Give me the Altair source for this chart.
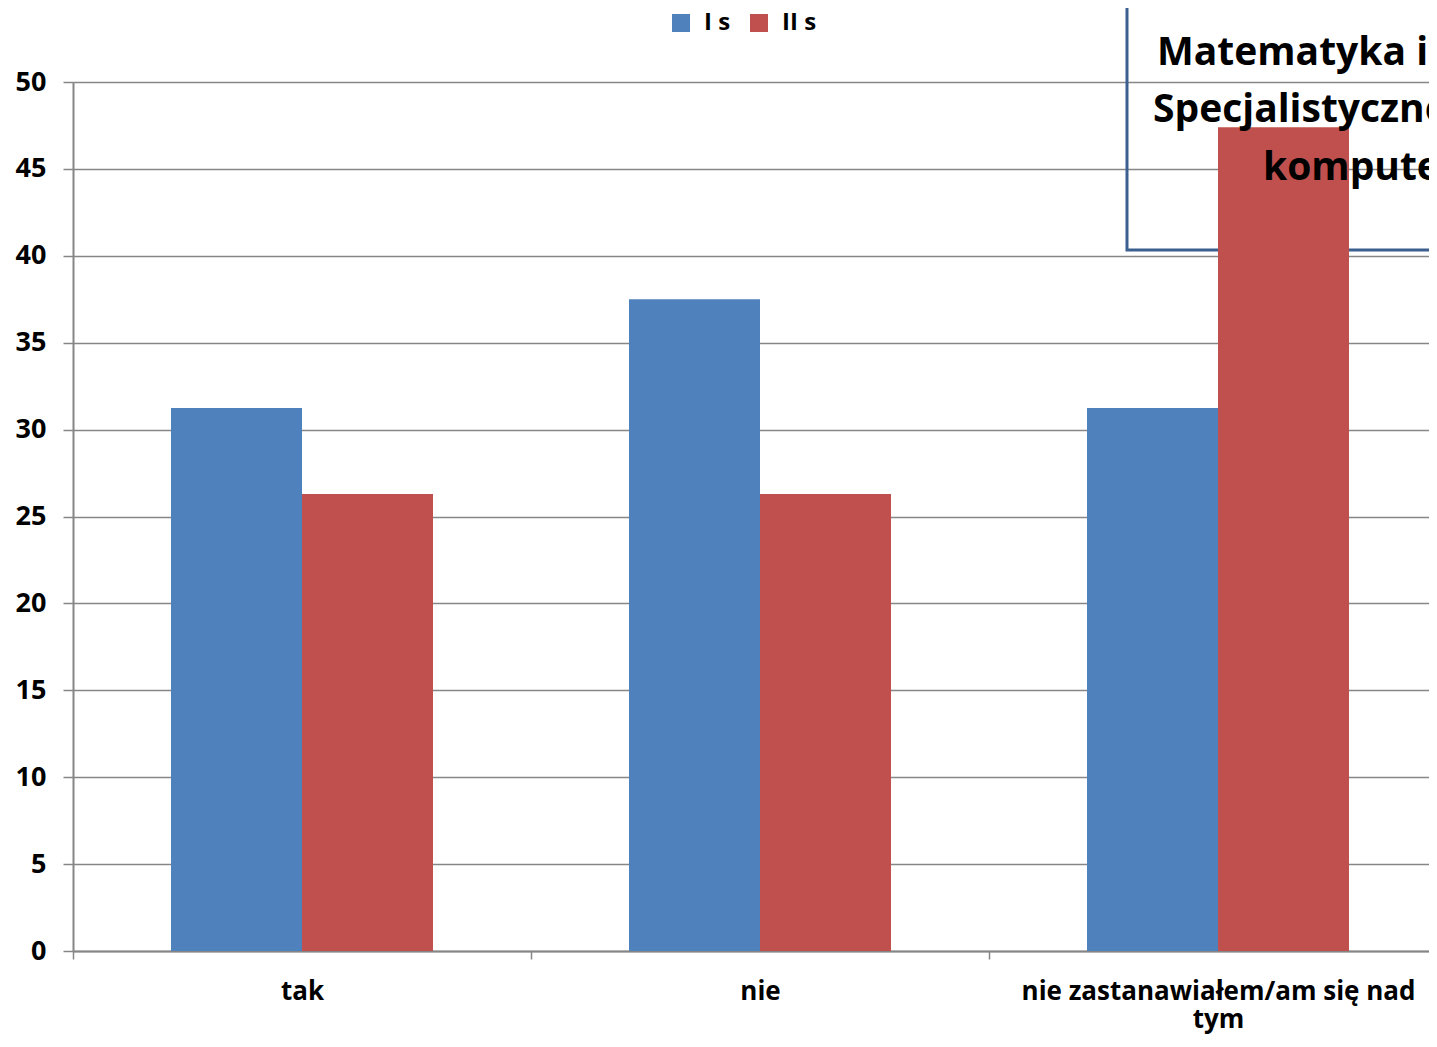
import altair as alt
import pandas as pd

# ---- data ----
categories = ["tak", "nie", "nie zastanawiałem/am się nad tym"]
series = ["I s", "II s"]
values_I = [31.25, 37.5, 31.25]
values_II = [26.3, 26.3, 47.4]
y_ticks = [0, 5, 10, 15, 20, 25, 30, 35, 40, 45, 50]
title_lines = ["Matematyka i", "Specjalistyczne", "komputerowe"]
colors = ["#4F81BD", "#C0504D"]

rows = []
for c, a, b in zip(categories, values_I, values_II):
    rows.append({"category": c, "series": series[0], "value": a})
    rows.append({"category": c, "series": series[1], "value": b})
df = pd.DataFrame(rows)

FONT = "Open Sans"
GRID = "#868686"
PAD_L, PAD_T = 65, 74
W, H = 1356, 869
SVG_H = 1026

label_expr = ("datum.value == 'nie zastanawiałem/am się nad tym' ? "
              "['nie zastanawiałem/am się nad', 'tym'] : datum.value")

bars = alt.Chart(df).mark_bar().encode(
    x=alt.X("category:N", sort=categories,
            scale=alt.Scale(domain=categories, range=[0, 1374], paddingInner=0, paddingOuter=0),
            axis=alt.Axis(title=None, labelAngle=0, labelFont=FONT, labelFontSize=26,
                          labelFontWeight="bold", labelColor="black", labelExpr=label_expr,
                          labelLineHeight=28, labelPadding=19, labelBaseline="top",
                          labelLimit=0, domainColor=GRID, domainWidth=2,
                          tickColor=GRID, tickWidth=1.5, tickSize=8, tickBand="extent",
                          grid=False)),
    xOffset=alt.XOffset("series:N", sort=series,
                        scale=alt.Scale(domain=series, paddingInner=0, paddingOuter=0.748)),
    y=alt.Y("value:Q", scale=alt.Scale(domain=[0, 50], nice=False),
            axis=alt.Axis(title=None, values=y_ticks, labelFont=FONT, labelFontSize=27,
                          labelFontWeight="bold", labelColor="black", labelPadding=17,
                          tickSize=10, tickColor=GRID, tickWidth=1.5,
                          domainColor=GRID, domainWidth=2,
                          grid=True, gridColor=GRID, gridWidth=1.5)),
    color=alt.Color("series:N", sort=series,
                    scale=alt.Scale(domain=series, range=colors),
                    legend=alt.Legend(title=None, orient="none", legendX=596, legendY=-71,
                                      direction="horizontal", symbolType="square",
                                      symbolSize=324, symbolStrokeWidth=0,
                                      labelFont=FONT, labelFontSize=24, labelFontWeight="bold",
                                      labelColor="black", labelOffset=11, columnPadding=16,
                                      padding=0)),
)

one = pd.DataFrame({"k": [0]})
box = alt.Chart(one).mark_rect(fillOpacity=0, stroke="#3C5F8F", strokeWidth=3).encode(
    x=alt.value(1054), x2=alt.value(1420), y=alt.value(-120), y2=alt.value(168))

title_x = [1084, 1080, 1190]
title_y = [-17, 40, 98]
texts = []
for line, tx, ty in zip(title_lines, title_x, title_y):
    texts.append(alt.Chart(one).mark_text(text=line, align="left", baseline="alphabetic",
                                          font=FONT, fontSize=39, fontWeight="bold",
                                          color="black").encode(
        x=alt.value(tx), y=alt.value(ty)))

chart = alt.layer(box, bars, *texts).properties(
    width=W, height=H,
    autosize=alt.AutoSizeParams(type="none"),
    padding={"left": PAD_L, "top": PAD_T, "right": 0, "bottom": SVG_H - PAD_T - H},
).configure_view(stroke=None).configure(background="white")

chart.save("out.html", embed_options={"renderer": "svg", "actions": False})
